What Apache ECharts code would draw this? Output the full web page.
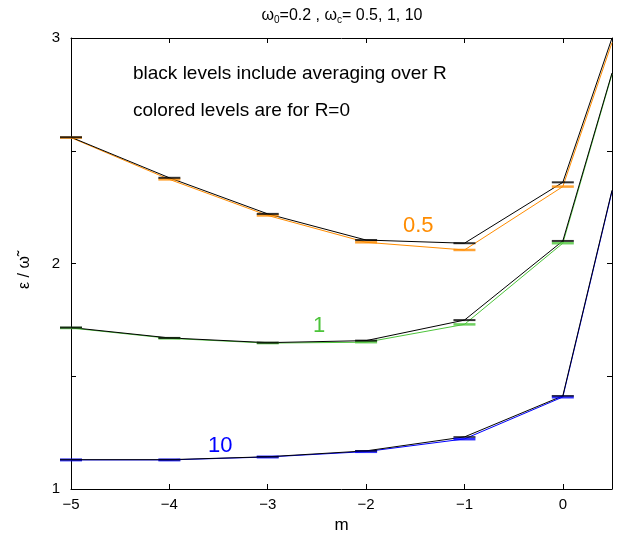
<!DOCTYPE html>
<html>
<head>
<meta charset="utf-8">
<script src="https://cdn.jsdelivr.net/npm/echarts@6/dist/echarts.min.js"></script>
<style>
html,body{margin:0;padding:0;background:#fff;}
#chart{width:621px;height:533px;}
</style>
</head>
<body>
<div id="chart"></div>
<script>
// ---- data ----
const mValues = [-5, -4, -3, -2, -1, 0, 0.5];
const levelM = [-5, -4, -3, -2, -1, 0];
const orangeColored = [2.558, 2.373, 2.213, 2.094, 2.060, 2.341, 2.98];
const orangeBlack   = [2.560, 2.380, 2.220, 2.104, 2.090, 2.360, 3.00];
const greenColored  = [1.714, 1.668, 1.647, 1.651, 1.730, 2.090, 2.840];
const greenBlack    = [1.716, 1.670, 1.649, 1.658, 1.749, 2.100, 2.845];
const blueColored   = [1.129, 1.129, 1.142, 1.166, 1.222, 1.408, 2.320];
const blueBlack     = [1.130, 1.130, 1.143, 1.169, 1.231, 1.413, 2.325];
const xTickLabels = {'-5':'\u22125','-4':'\u22124','-3':'\u22123','-2':'\u22122','-1':'\u22121','0':'0'};
const yTickLabels = {'1':'1','2':'2','3':'3'};

const ORANGE = '#ff8c00', GREEN = '#4cc43a', BLUE = '#0000ff';
const FONT = 'Liberation Sans, Arial, sans-serif';

function pairs(vals){ return mValues.map((m,i)=>[m, vals[i]]); }
function levels(vals){ return levelM.map((m,i)=>[m, vals[i]]); }

function lineSeries(vals, color, z){
  return {type:'line', data:pairs(vals), symbol:'none', z:z,
    lineStyle:{color:color, width:1}, animation:false};
}
function levelSeries(vals, color, z, h){
  return {type:'scatter', data:levels(vals), symbol:'rect', symbolSize:[22,h],
    itemStyle:{color:color}, clip:false, z:z, animation:false};
}

const chart = echarts.init(document.getElementById('chart'));
chart.setOption({
  backgroundColor:'#fff',
  animation:false,
  title:{
    text:'\u03c9{sub|0}=0.2 , \u03c9{sub|c}= 0.5, 1, 10',
    left:337, textAlign:'center', top:2,
    textStyle:{fontFamily:FONT, fontSize:16, fontWeight:'normal', color:'#000',
      rich:{sub:{fontFamily:FONT, fontSize:10, verticalAlign:'bottom', padding:[8,0,0,0], color:'#000'}}}
  },
  grid:{left:71, right:9, top:38, bottom:44, show:false, containLabel:false, outerBoundsMode:'none'},
  xAxis:[{
    type:'value', min:-5, max:0.5, interval:1, position:'bottom',
    name:'m', nameLocation:'middle', nameGap:27,
    nameTextStyle:{fontFamily:FONT, fontSize:17, color:'#000'},
    axisLine:{show:true, onZero:false, lineStyle:{color:'#000', width:1}},
    axisTick:{show:true, inside:true, length:5, lineStyle:{color:'#000'}},
    axisLabel:{fontFamily:FONT, fontSize:15, color:'#000', margin:8,
      formatter:v=>xTickLabels[String(v)] || ''},
    splitLine:{show:false}
  },{
    type:'value', min:-5, max:0.5, interval:1, position:'top',
    axisLine:{show:true, onZero:false, lineStyle:{color:'#000', width:1}},
    axisTick:{show:true, inside:true, length:5, lineStyle:{color:'#000'}},
    axisLabel:{show:false}, splitLine:{show:false}
  }],
  yAxis:[{
    type:'value', min:1, max:3, interval:0.5, position:'left',
    name:'\u03b5 / \u03c9\u0303', nameLocation:'middle', nameGap:38, nameRotate:90,
    nameTextStyle:{fontFamily:FONT, fontSize:16, color:'#000', padding:[0,18,0,0]},
    axisLine:{show:true, onZero:false, lineStyle:{color:'#000', width:1}},
    axisTick:{show:true, inside:true, length:5, lineStyle:{color:'#000'}},
    axisLabel:{fontFamily:FONT, fontSize:15, color:'#000', margin:11,
      formatter:v=>yTickLabels[String(v)] || ''},
    splitLine:{show:false}
  },{
    type:'value', min:1, max:3, interval:0.5, position:'right',
    axisLine:{show:true, onZero:false, lineStyle:{color:'#000', width:1}},
    axisTick:{show:true, inside:true, length:5, lineStyle:{color:'#000'}},
    axisLabel:{show:false}, splitLine:{show:false}
  }],
  graphic:[
    {type:'text', left:133, top:64, style:{text:'black levels include averaging over R', fontFamily:FONT, fontSize:19, fill:'#000'}},
    {type:'text', left:133, top:101, style:{text:'colored levels are for R=0', fontFamily:FONT, fontSize:19, fill:'#000'}},
    {type:'text', left:403, top:215, style:{text:'0.5', fontFamily:FONT, fontSize:22, fill:ORANGE}},
    {type:'text', left:313, top:315, style:{text:'1', fontFamily:FONT, fontSize:22, fill:GREEN}},
    {type:'text', left:208, top:435, style:{text:'10', fontFamily:FONT, fontSize:22, fill:BLUE}}
  ],
  series:[
    lineSeries(orangeColored, ORANGE, 2),
    lineSeries(greenColored, GREEN, 2),
    lineSeries(blueColored, BLUE, 2),
    lineSeries(orangeBlack, '#000', 3),
    lineSeries(greenBlack, '#000', 3),
    lineSeries(blueBlack, '#000', 3),
    levelSeries(orangeColored, ORANGE, 4, 2.5),
    levelSeries(greenColored, GREEN, 4, 2.5),
    levelSeries(blueColored, BLUE, 4, 3),
    levelSeries(orangeBlack, '#000', 5, 2),
    levelSeries(greenBlack, '#000', 5, 2),
    levelSeries(blueBlack, '#000', 5, 1.5)
  ]
});
</script>
</body>
</html>
